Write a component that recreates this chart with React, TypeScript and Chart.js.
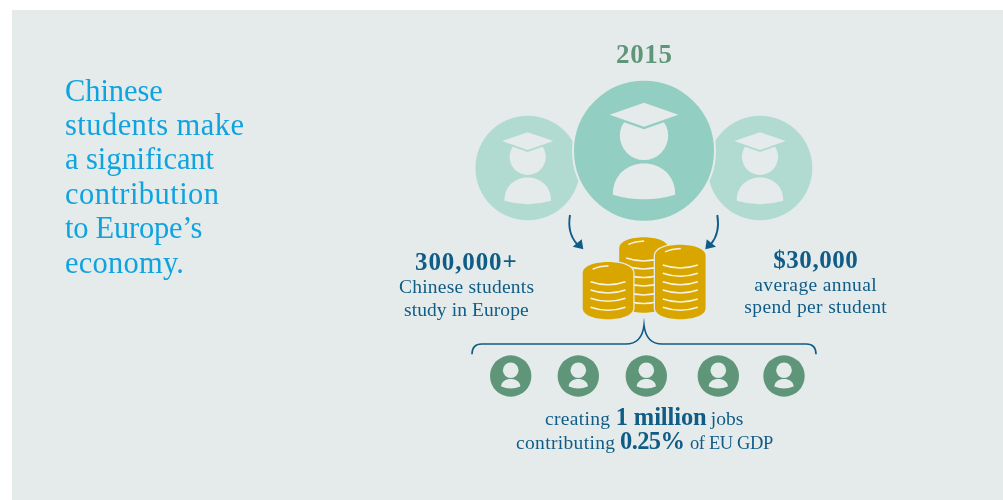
import React, { useEffect, useRef } from "react";
import { Chart, registerables } from "chart.js";

Chart.register(...registerables);

// ---- content ----
const headlineLines = ["Chinese", "students make", "a significant", "contribution", "to Europe\u2019s", "economy."];
const yearLabel = "2015";
const studentStat = "300,000+";
const studentLines = ["Chinese students", "study in Europe"];
const spendStat = "$30,000";
const spendLines = ["average annual", "spend per student"];
const jobsLine = ["creating ", "1 million", " jobs"];
const gdpLine = ["contributing ", "0.25%", " of EU GDP"];

// ---- layout (in the chart's 1003 x 500 schematic scale) ----
const sideStudents = [{ x: 527.7, y: 168, r: 52.3 }, { x: 760, y: 168, r: 52.3 }];
const mainStudent = [{ x: 644, y: 150.7, r: 71 }];
const jobPeople = [
  { x: 510.7, y: 376, r: 20.7 }, { x: 578.3, y: 376, r: 20.7 }, { x: 646.3, y: 376, r: 20.7 },
  { x: 718.3, y: 376, r: 20.7 }, { x: 784, y: 376, r: 20.7 },
];
const headlineBaselines = [101, 135, 169.3, 204, 238.3, 272.7];
const headlineWidths = [97.7, 179, 149, 154, 137.3, 119];

const BG = "#E5EBEA";
const MAIN = "#93CEC2";
const SIDE = "#B1DBD1";
const GREEN = "#5F9679";
const BLUE = "#0F5C87";
const SKY = "#0FA3E0";
const GOLD = "#D9A600";
const STRIPE = "#F7F2E4";
const SERIF = '"Liberation Serif"';

const infographic = {
  id: "infographic",
  beforeDatasetsDraw(chart: any) {
    const { ctx, scales } = chart;
    const X = (v: number) => scales.x.getPixelForValue(v);
    const Y = (v: number) => scales.y.getPixelForValue(v);
    ctx.save();
    ctx.fillStyle = BG;
    ctx.fillRect(X(12), Y(10), X(1003) - X(12), Y(500) - Y(10));
    ctx.restore();
  },
  afterDatasetsDraw(chart: any) {
    const { ctx, scales } = chart;
    const X = (v: number) => scales.x.getPixelForValue(v);
    const Y = (v: number) => scales.y.getPixelForValue(v);
    ctx.save();

    const graduate = (c: any, bandColor: string, k: number) => {
      const U = (dx: number) => X(c.x + dx * k);
      const V = (dy: number) => Y(c.y + dy * k);
      ctx.fillStyle = BG;
      ctx.beginPath();
      ctx.arc(U(0), V(-14.9), 24.2 * k, 0, Math.PI * 2);
      ctx.fill();
      // body
      ctx.beginPath();
      ctx.moveTo(U(-31.2), V(44));
      ctx.bezierCurveTo(U(-31.2), V(2.5), U(31.2), V(2.5), U(31.2), V(44));
      ctx.quadraticCurveTo(U(0), V(53.2), U(-31.2), V(44));
      ctx.closePath();
      ctx.fill();
      // band under the cap
      const diamond = (off: number) => {
        ctx.beginPath();
        ctx.moveTo(U(-34.3), V(-36 + off));
        ctx.lineTo(U(0), V(-48 + off));
        ctx.lineTo(U(34.3), V(-36 + off));
        ctx.lineTo(U(0), V(-24 + off));
        ctx.closePath();
        ctx.fill();
      };
      ctx.fillStyle = bandColor;
      diamond(2.6);
      ctx.fillStyle = BG;
      diamond(0);
    };
    sideStudents.forEach((c) => graduate(c, SIDE, 0.747));
    mainStudent.forEach((c) => graduate(c, MAIN, 1));

    // worker icons
    jobPeople.forEach((c) => {
      ctx.fillStyle = BG;
      ctx.beginPath();
      ctx.arc(X(c.x), Y(c.y - 5.7), 7.8, 0, Math.PI * 2);
      ctx.fill();
      ctx.beginPath();
      ctx.moveTo(X(c.x - 9.6), Y(c.y + 10.5));
      ctx.bezierCurveTo(X(c.x - 9.6), Y(c.y + 0.5), X(c.x + 9.6), Y(c.y + 0.5), X(c.x + 9.6), Y(c.y + 10.5));
      ctx.quadraticCurveTo(X(c.x), Y(c.y + 14.5), X(c.x - 9.6), Y(c.y + 10.5));
      ctx.closePath();
      ctx.fill();
    });

    // arrows
    ctx.strokeStyle = BLUE;
    ctx.fillStyle = BLUE;
    ctx.lineWidth = 1.9;
    ctx.lineCap = "butt";
    [
      { s: 570, c: 567, e: 577, t: 583.3, a: 572.7, b: 581.7 },
      { s: 717.3, c: 720.3, e: 711, t: 705.3, a: 716, b: 706.7 },
    ].forEach((r) => {
      ctx.beginPath();
      ctx.moveTo(X(r.s), Y(215));
      ctx.quadraticCurveTo(X(r.c), Y(233), X(r.e), Y(244));
      ctx.stroke();
      ctx.beginPath();
      ctx.moveTo(X(r.t), Y(249.3));
      ctx.lineTo(X(r.a), Y(246.7));
      ctx.lineTo(X(r.b), Y(239.3));
      ctx.closePath();
      ctx.fill();
    });

    // coins
    const stack = (cx: number, top: number, bottom: number, rx: number, ry: number, stripes: number[]) => {
      ctx.beginPath();
      ctx.moveTo(X(cx - rx), Y(top + ry));
      ctx.bezierCurveTo(X(cx - rx), Y(top - ry * 0.33), X(cx + rx), Y(top - ry * 0.33), X(cx + rx), Y(top + ry));
      ctx.lineTo(X(cx + rx), Y(bottom - ry));
      ctx.bezierCurveTo(X(cx + rx), Y(bottom + ry * 0.33), X(cx - rx), Y(bottom + ry * 0.33), X(cx - rx), Y(bottom - ry));
      ctx.closePath();
      ctx.fillStyle = GOLD;
      ctx.strokeStyle = BG;
      ctx.lineWidth = 2.6;
      ctx.stroke();
      ctx.fill();
      ctx.strokeStyle = STRIPE;
      ctx.lineWidth = 1.5;
      stripes.forEach((y) => {
        ctx.beginPath();
        ctx.moveTo(X(cx - 17.5), Y(y));
        ctx.quadraticCurveTo(X(cx), Y(y + 6), X(cx + 17.5), Y(y));
        ctx.stroke();
      });
      ctx.beginPath();
      ctx.moveTo(X(cx - 15.3), Y(top + 7.2));
      ctx.quadraticCurveTo(X(cx - 9), Y(top + 4.3), X(cx + 0.5), Y(top + 3.8));
      ctx.stroke();
    };
    stack(643.7, 237.3, 312.7, 24.5, 11, [258, 266, 274.5, 283, 292, 300.5]);
    stack(608, 262, 319.3, 25.3, 11, [281.7, 290, 298.3, 307.3]);
    stack(680.3, 244.7, 319.3, 25.3, 11, [265, 273.3, 281.7, 290, 299, 307.3]);

    // brace
    ctx.strokeStyle = BLUE;
    ctx.lineWidth = 1.6;
    ctx.beginPath();
    ctx.moveTo(X(472), Y(354.3));
    ctx.quadraticCurveTo(X(472), Y(344), X(481.7), Y(344));
    ctx.lineTo(X(625.7), Y(344));
    ctx.quadraticCurveTo(X(642), Y(344), X(644), Y(325));
    ctx.quadraticCurveTo(X(646), Y(344), X(662.3), Y(344));
    ctx.lineTo(X(806.3), Y(344));
    ctx.quadraticCurveTo(X(816), Y(344), X(816), Y(354.3));
    ctx.stroke();

    // text: each run is fitted to the width it has in the reference
    const text = (s: string, x: number, y: number, w: number, font: string, color: string) => {
      ctx.font = font;
      ctx.fillStyle = color;
      ctx.textAlign = "left";
      ctx.textBaseline = "alphabetic";
      (ctx as any).letterSpacing = "0px";
      const m = ctx.measureText(s).width;
      (ctx as any).letterSpacing = `${(w - m) / Math.max(1, s.length - 1)}px`;
      ctx.fillText(s, X(x), Y(y));
      (ctx as any).letterSpacing = "0px";
    };
    const head = `30.5px ${SERIF}`;
    headlineLines.forEach((l, i) => text(l, 65, headlineBaselines[i], headlineWidths[i], head, SKY));
    text(yearLabel, 616, 62.7, 56, `bold 27px ${SERIF}`, GREEN);
    const stat = `bold 25px ${SERIF}`;
    const body = `19.5px ${SERIF}`;
    text(studentStat, 415, 270, 101.7, stat, BLUE);
    text(studentLines[0], 399, 293.3, 135, body, BLUE);
    text(studentLines[1], 404, 316, 124.7, body, BLUE);
    text(spendStat, 773.3, 268.3, 84.4, stat, BLUE);
    text(spendLines[0], 754.3, 291, 122.4, body, BLUE);
    text(spendLines[1], 744.3, 313.3, 142.4, body, BLUE);
    const big = `bold 24.5px ${SERIF}`;
    text(jobsLine[0].trim(), 545, 425, 65, body, BLUE);
    text(jobsLine[1], 615.7, 425, 91, big, BLUE);
    text(jobsLine[2].trim(), 710.7, 425, 32.6, body, BLUE);
    text(gdpLine[0].trim(), 516, 449.3, 99, body, BLUE);
    text(gdpLine[1], 620, 449.3, 65, big, BLUE);
    text(gdpLine[2].trim(), 690, 449.3, 83.3, `18.5px ${SERIF}`, BLUE);
    ctx.restore();
  },
};

export default function App() {
  const ref = useRef<HTMLCanvasElement | null>(null);
  useEffect(() => {
    if (!ref.current) return;
    const chart = new Chart(ref.current, {
      type: "bubble",
      data: {
        datasets: [
          { label: "Students (spend)", data: sideStudents, backgroundColor: SIDE, borderWidth: 0, order: 3 },
          { label: "Students", data: mainStudent, backgroundColor: MAIN, borderColor: BG, borderWidth: 2, order: 2 },
          { label: "Jobs", data: jobPeople, backgroundColor: GREEN, borderWidth: 0, order: 1 },
        ],
      },
      options: {
        animation: false,
        responsive: false,
        maintainAspectRatio: false,
        layout: { padding: 0, autoPadding: false },
        events: [],
        plugins: { legend: { display: false }, tooltip: { enabled: false }, title: { display: false } },
        scales: {
          x: { type: "linear", min: 0, max: 1003, display: false },
          y: { type: "linear", min: 0, max: 500, reverse: true, display: false },
        },
      },
      plugins: [infographic],
    } as any);
    return () => chart.destroy();
  }, []);
  return (
    <div style={{ position: "fixed", left: 0, top: 0, width: 1003, height: 500, background: "#fff" }}>
      <canvas ref={ref} width={1003} height={500} style={{ display: "block" }} />
    </div>
  );
}
